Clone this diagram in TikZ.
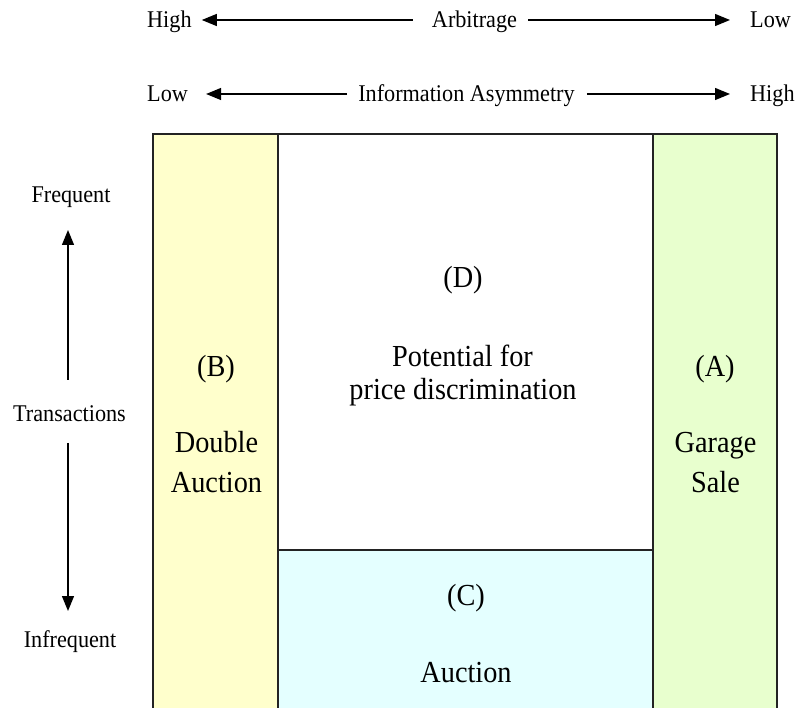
\documentclass[tikz,border=0pt]{standalone}
\usepackage{fontspec}
\setmainfont{Liberation Serif}
\usepackage{graphicx}
\usetikzlibrary{arrows.meta,calc}
\definecolor{ylw}{RGB}{255,255,204}
\definecolor{grn}{RGB}{232,255,206}
\definecolor{cyn}{RGB}{228,255,255}
\definecolor{edgec}{RGB}{35,35,35}
\newcommand\vst[1]{\scalebox{1}[1.08]{#1}}
\begin{document}
\begin{tikzpicture}[x=1pt,y=-1pt,
  lab/.style={inner sep=0pt, font=\fontsize{22.2}{26}\selectfont},
  big/.style={inner sep=0pt, font=\fontsize{28.3}{32}\selectfont},
  arr/.style={line width=1.3pt, -{Triangle[length=15pt,width=12pt]}},
  boxline/.style={draw=edgec, line width=1.2pt}]
\useasboundingbox (0,0) rectangle (798,708);

% regions
\path[fill=ylw] (153,134) rectangle (278,712);
\path[fill=grn] (653,134) rectangle (777,712);
\path[fill=white] (278,134) rectangle (653,550);
\path[fill=cyn] (278,550) rectangle (653,712);
\draw[boxline] (153,714) -- (153,134) -- (777,134) -- (777,714);
\draw[boxline] (278,714) -- (278,134);
\draw[boxline] (653,714) -- (653,134);
\draw[boxline] (278,550) -- (653,550);

% row 1
\node[lab, anchor=base west] (h1) at (147,28) {\vst{High}};
\node[lab, anchor=base] (arb) at (474.5,28) {\vst{Arbitrage}};
\node[lab, anchor=base west] (l1) at (750,28) {\vst{Low}};
\draw[arr] ($(arb.base west)+(-19,-8)$) -- ($(h1.base east)+(10,-8)$);
\draw[arr] ($(arb.base east)+(11,-8)$) -- ($(l1.base west)+(-20,-8)$);

% row 2
\node[lab, anchor=base west] (l2) at (147,102) {\vst{Low}};
\node[lab, anchor=base] (info) at (466.5,102) {\vst{Information Asymmetry}};
\node[lab, anchor=base west] (h2) at (750,102) {\vst{High}};
\draw[arr] ($(info.base west)+(-11,-8)$) -- ($(l2.base east)+(18,-8)$);
\draw[arr] ($(info.base east)+(12,-8)$) -- ($(h2.base west)+(-20,-8)$);

% left axis
\node[lab, anchor=base] (freq) at (71,203) {\vst{Frequent}};
\node[lab, anchor=base] (trans) at (69.5,421) {\vst{Transactions}};
\node[lab, anchor=base] (infreq) at (70,647) {\vst{Infrequent}};
\draw[arr] ($(trans.base)+(-1.5,-41)$) -- ($(freq.base)+(-3,27)$);
\draw[arr] ($(trans.base)+(-1.5,22)$) -- ($(infreq.base)+(-2,-36)$);

% (B)
\node[big, anchor=base] (bl) at (216,377) {\vst{(B)}};
\node[big, anchor=base] (bt1) at (216.5,453) {\vst{Double}};
\node[big, anchor=base] (bt2) at (216.5,492) {\vst{Auction}};
% (A)
\node[big, anchor=base] (al) at (715,377) {\vst{(A)}};
\node[big, anchor=base] (at1) at (715.5,453) {\vst{Garage}};
\node[big, anchor=base] (at2) at (715.5,492) {\vst{Sale}};
% (D)
\node[big, anchor=base] (dl) at (463,288) {\vst{(D)}};
\node[big, anchor=base] (dt1) at (462.5,367) {\vst{Potential for}};
\node[big, anchor=base] (dt2) at (463,400) {\vst{price discrimination}};
% (C)
\node[big, anchor=base] (cl) at (466,605) {\vst{(C)}};
\node[big, anchor=base] (ct) at (466,682) {\vst{Auction}};
\end{tikzpicture}
\end{document}
